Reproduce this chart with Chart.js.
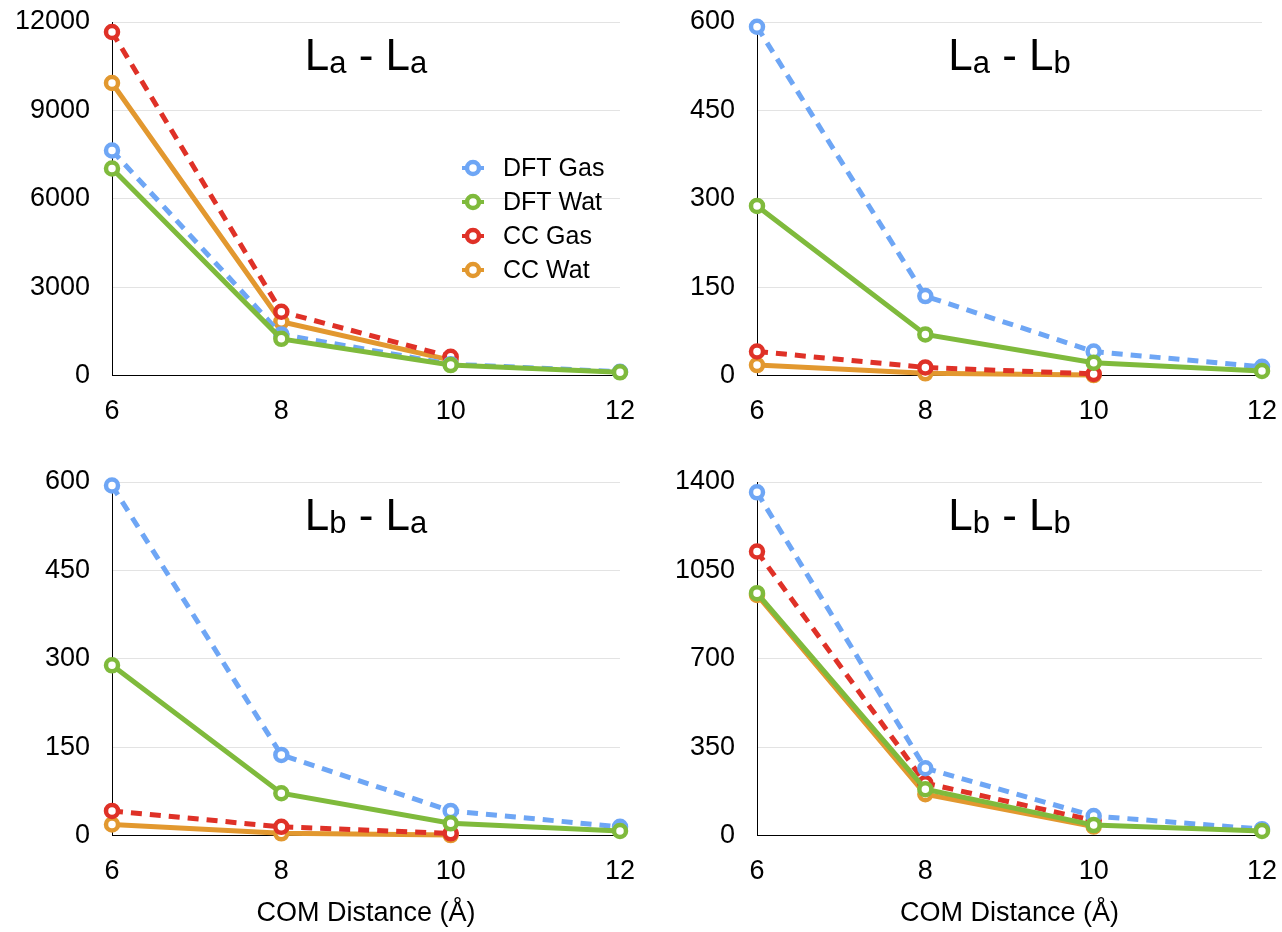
<!DOCTYPE html>
<html>
<head>
<meta charset="utf-8">
<script src="https://cdn.jsdelivr.net/npm/chart.js@4.4.1/dist/chart.umd.min.js"></script>
<style>
    html, body { margin: 0; padding: 0; background: #fff; }
    #wrap { position: relative; width: 1282px; height: 932px; }
    canvas { position: absolute; }
</style>
</head>
<body>
<div id="wrap">
    <canvas id="chartLaLa" width="641" height="460" style="left:0;top:0"></canvas>
    <canvas id="chartLaLb" width="641" height="460" style="left:641px;top:0"></canvas>
    <canvas id="chartLbLa" width="641" height="472" style="left:0;top:460px"></canvas>
    <canvas id="chartLbLb" width="641" height="472" style="left:641px;top:460px"></canvas>
</div>
<script>
const distances = [6, 8, 10, 12];
const seriesNames = ['DFT Gas', 'DFT Wat', 'CC Gas', 'CC Wat'];
const xAxisTitle = 'COM Distance (Å)';

// La - La
const laLaDftGas = [7640, 1400, 390, 135];
const laLaDftWat = [7030, 1250, 360, 115];
const laLaCcGas = [11660, 2170, 640, null];
const laLaCcWat = [9930, 1830, 530, null];
const laLaTicks = [0, 3000, 6000, 9000, 12000];

// La - Lb
const laLbDftGas = [592, 135, 41, 15];
const laLbDftWat = [288, 70, 22, 8];
const laLbCcGas = [41, 14, 3, null];
const laLbCcWat = [18, 4, 1, null];
const laLbTicks = [0, 150, 300, 450, 600];

// Lb - La
const lbLaDftGas = [594, 137, 42, 15];
const lbLaDftWat = [289, 72, 21, 8];
const lbLaCcGas = [42, 15, 4, null];
const lbLaCcWat = [19, 4, 1, null];
const lbLaTicks = [0, 150, 300, 450, 600];

// Lb - Lb
const lbLbDftGas = [1359, 267, 78, 26];
const lbLbDftWat = [960, 184, 42, 19];
const lbLbCcGas = [1125, 208, 60, null];
const lbLbCcWat = [953, 164, 36, null];
const lbLbTicks = [0, 350, 700, 1050, 1400];

const colors = ['#6ea6f5', '#7fba3c', '#df3127', '#e2982f'];
const dashed = [true, false, true, false];
const drawOrder = [1, 0, 2, 3];
const fontFamily = '"Liberation Sans", Arial, Helvetica, sans-serif';

const panelTitlePlugin = {
    id: 'panelTitle',
    afterDraw(chart, args, opts) {
        if (!opts.parts) return;
        const ctx = chart.ctx;
        const area = chart.chartArea;
        const mainFont = '44px ' + fontFamily;
        const subFont = '31px ' + fontFamily;
        const pieces = [];
        opts.parts.forEach((p, i) => {
            if (i > 0) pieces.push({ text: ' - ', font: mainFont, dy: 0 });
            pieces.push({ text: p[0], font: mainFont, dy: 0 });
            pieces.push({ text: p[1], font: subFont, dy: 3 });
        });
        ctx.save();
        let total = 0;
        pieces.forEach(p => {
            ctx.font = p.font;
            p.w = ctx.measureText(p.text).width;
            total += p.w;
        });
        let x = (area.left + area.right) / 2 - total / 2;
        const y = area.top + 48;
        ctx.fillStyle = '#000';
        ctx.textAlign = 'left';
        ctx.textBaseline = 'alphabetic';
        pieces.forEach(p => {
            ctx.font = p.font;
            ctx.fillText(p.text, x, y + p.dy);
            x += p.w;
        });
        ctx.restore();
    }
};

const insideLegendPlugin = {
    id: 'insideLegend',
    afterDraw(chart, args, opts) {
        if (!opts.show) return;
        const ctx = chart.ctx;
        const area = chart.chartArea;
        ctx.save();
        ctx.font = '25px ' + fontFamily;
        ctx.textAlign = 'left';
        ctx.textBaseline = 'middle';
        chart.data.datasets.forEach((ds, i) => {
            const cx = area.left + 361;
            const cy = area.top + 146 + i * 34;
            ctx.strokeStyle = ds.borderColor;
            ctx.lineWidth = 4;
            ctx.beginPath();
            ctx.moveTo(cx - 11, cy);
            ctx.lineTo(cx + 11, cy);
            ctx.stroke();
            ctx.beginPath();
            ctx.arc(cx, cy, 6, 0, Math.PI * 2);
            ctx.fillStyle = '#fff';
            ctx.fill();
            ctx.lineWidth = 4.5;
            ctx.stroke();
            ctx.fillStyle = '#000';
            ctx.fillText(ds.label, cx + 30, cy + 1);
        });
        ctx.restore();
    }
};

function makeDataset(i, values) {
    return {
        label: seriesNames[i],
        data: values.map((v, k) => ({ x: distances[k], y: v })).filter(p => p.y !== null),
        borderColor: colors[i],
        backgroundColor: '#fff',
        borderWidth: 5,
        borderDash: dashed[i] ? [11, 8] : [],
        pointRadius: 6,
        pointHoverRadius: 6,
        pointBorderWidth: 4.5,
        pointBackgroundColor: '#fff',
        pointBorderColor: colors[i],
        tension: 0,
        clip: false,
        order: drawOrder[i]
    };
}

function drawPanel(canvasId, series, ticks, titleParts, opts) {
    const ctx = document.getElementById(canvasId).getContext('2d');
    const tickFont = { family: fontFamily, size: 27 };
    new Chart(ctx, {
        type: 'line',
        data: {
            datasets: series.map((values, i) => makeDataset(i, values))
        },
        plugins: [panelTitlePlugin, insideLegendPlugin],
        options: {
            responsive: false,
            animation: false,
            layout: {
                padding: { top: 22, right: opts.padRight, bottom: 0, left: 0 }
            },
            scales: {
                x: {
                    type: 'linear',
                    min: 6,
                    max: 12,
                    ticks: {
                        stepSize: 2,
                        padding: 0,
                        color: '#000',
                        font: tickFont,
                        maxRotation: 0
                    },
                    // invisible tick marks push the labels down without padding the chart area
                    grid: {
                        display: true,
                        drawOnChartArea: false,
                        drawTicks: true,
                        tickLength: 20,
                        tickColor: 'rgba(0,0,0,0)'
                    },
                    border: { display: true, color: '#000', width: 1 },
                    title: {
                        display: opts.showXTitle,
                        text: xAxisTitle,
                        color: '#000',
                        font: { family: fontFamily, size: 27 },
                        padding: { top: 0, bottom: 2 }
                    },
                    afterFit: scale => { scale.height = opts.xHeight; }
                },
                y: {
                    min: ticks[0],
                    max: ticks[ticks.length - 1],
                    afterBuildTicks: scale => {
                        scale.ticks = ticks.map(v => ({ value: v }));
                    },
                    ticks: {
                        padding: 0,
                        color: '#000',
                        font: tickFont,
                        callback: v => String(v)
                    },
                    grid: {
                        drawTicks: true,
                        tickLength: 22,
                        tickColor: 'rgba(0,0,0,0)',
                        lineWidth: 1,
                        color: c => c.tick && c.tick.value === 0 ? 'rgba(0,0,0,0)' : '#e3e3e3'
                    },
                    border: { display: true, color: '#000', width: 1 },
                    afterFit: scale => { scale.width = opts.yWidth; }
                }
            },
            plugins: {
                legend: { display: false },
                tooltip: { enabled: false },
                panelTitle: { parts: titleParts },
                insideLegend: { show: opts.showLegend }
            }
        }
    });
}

drawPanel('chartLaLa', [laLaDftGas, laLaDftWat, laLaCcGas, laLaCcWat], laLaTicks,
    [['L', 'a'], ['L', 'a']],
    { yWidth: 112, padRight: 21, xHeight: 84.3, showXTitle: false, showLegend: true });

drawPanel('chartLaLb', [laLbDftGas, laLbDftWat, laLbCcGas, laLbCcWat], laLbTicks,
    [['L', 'a'], ['L', 'b']],
    { yWidth: 116, padRight: 20, xHeight: 84.3, showXTitle: false, showLegend: false });

drawPanel('chartLbLa', [lbLaDftGas, lbLaDftWat, lbLaCcGas, lbLaCcWat], lbLaTicks,
    [['L', 'b'], ['L', 'a']],
    { yWidth: 112, padRight: 21, xHeight: 96.3, showXTitle: true, showLegend: false });

drawPanel('chartLbLb', [lbLbDftGas, lbLbDftWat, lbLbCcGas, lbLbCcWat], lbLbTicks,
    [['L', 'b'], ['L', 'b']],
    { yWidth: 116, padRight: 20, xHeight: 96.3, showXTitle: true, showLegend: false });
</script>
</body>
</html>
